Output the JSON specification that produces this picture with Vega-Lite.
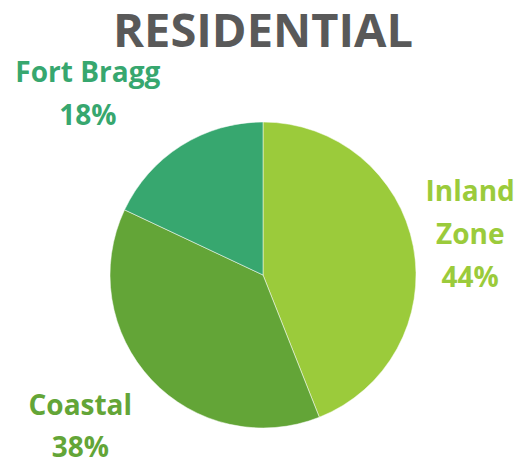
{
  "$schema": "https://vega.github.io/schema/vega-lite/v6.json",
  "width": 526,
  "height": 382,
  "autosize": "none",
  "padding": {"top": 84, "left": 0, "right": 0, "bottom": 0},
  "background": "white",
  "title": {
    "text": "RESIDENTIAL",
    "font": "Open Sans",
    "fontWeight": "bold",
    "fontSize": 47,
    "color": "#595959",
    "anchor": "middle",
    "frame": "group",
    "baseline": "alphabetic",
    "offset": 0,
    "dy": 57
  },
  "data": {
    "values": [
      {"category": "Inland Zone", "value": 44, "label": "Inland\nZone\n44%"},
      {"category": "Coastal", "value": 38, "label": "Coastal\n38%"},
      {"category": "Fort Bragg", "value": 18, "label": "Fort Bragg\n18%"}
    ]
  },
  "encoding": {
    "theta": {"field": "value", "type": "quantitative", "stack": true},
    "order": {"field": "value", "type": "quantitative", "sort": "descending"},
    "color": {
      "field": "category",
      "type": "nominal",
      "scale": {"domain": ["Inland Zone", "Coastal", "Fort Bragg"], "range": ["#9BCB3B", "#63A537", "#37A76F"]},
      "legend": null
    }
  },
  "layer": [
    {"mark": {"type": "arc", "outerRadius": 153, "stroke": "#ffffff", "strokeWidth": 0.5}},
    {
      "mark": {"type": "text", "radius": 215, "dx": -4, "dy": -42, "font": "Open Sans", "fontWeight": "bold", "fontSize": 28, "lineBreak": "\n", "lineHeight": 43, "align": "center", "baseline": "middle"},
      "encoding": {"text": {"condition": {"test": "datum.category === 'Inland Zone'", "field": "label"}, "value": ""}}
    },
    {
      "mark": {"type": "text", "radius": 215, "dx": -26, "dy": -15, "font": "Open Sans", "fontWeight": "bold", "fontSize": 28, "lineBreak": "\n", "lineHeight": 42, "align": "center", "baseline": "middle"},
      "encoding": {"text": {"condition": {"test": "datum.category === 'Coastal'", "field": "label"}, "value": ""}}
    },
    {
      "mark": {"type": "text", "radius": 215, "dx": -60, "dy": -19, "font": "Open Sans", "fontWeight": "bold", "fontSize": 28, "lineBreak": "\n", "lineHeight": 43, "align": "center", "baseline": "middle"},
      "encoding": {"text": {"condition": {"test": "datum.category === 'Fort Bragg'", "field": "label"}, "value": ""}}
    }
  ],
  "config": {"view": {"stroke": null}}
}
